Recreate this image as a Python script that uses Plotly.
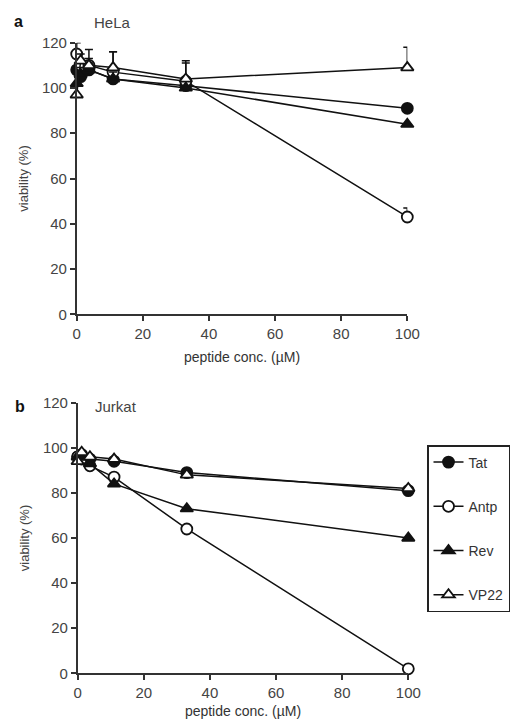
import plotly.graph_objects as go

conc = [0, 1.2, 3.7, 11, 33, 100]
series = ["Tat", "Antp", "Rev", "VP22"]

hela_tat = [108, 105, 108, 104, 101, 91]
hela_antp = [115, 110, 110, 107, 103, 43]
hela_rev = [102, 106, 108, 104, 100, 84]
hela_vp22 = [97, 112, 110, 109, 104, 109]
hela_tat_err = [3, 3, 3, 3, 3, 0]
hela_antp_err = [5, 3, 7, 9, 8, 4]
hela_rev_err = [3, 3, 3, 3, 3, 0]
hela_vp22_err = [4, 3, 3, 7, 8, 9]

jurkat_tat = [96, 97, 95, 94, 89, 81]
jurkat_antp = [96, 95, 92, 87, 64, 2]
jurkat_rev = [96, 96, 93, 84, 73, 60]
jurkat_vp22 = [94, 98, 96, 95, 88, 82]

x_ticks = [0, 20, 40, 60, 80, 100]
y_ticks = [0, 20, 40, 60, 80, 100, 120]

symbols = {"Tat": "circle", "Antp": "circle", "Rev": "triangle-up", "VP22": "triangle-up"}
fills = {"Tat": "#111", "Antp": "white", "Rev": "#111", "VP22": "white"}

fig = go.Figure()

hela = {"Tat": (hela_tat, hela_tat_err), "Antp": (hela_antp, hela_antp_err),
        "Rev": (hela_rev, hela_rev_err), "VP22": (hela_vp22, hela_vp22_err)}
jurkat = {"Tat": jurkat_tat, "Antp": jurkat_antp, "Rev": jurkat_rev, "VP22": jurkat_vp22}

for name in series:
    vals, err = hela[name]
    fig.add_trace(go.Scatter(
        x=conc, y=vals, mode="lines+markers", name=name, showlegend=False,
        line=dict(color="#111", width=1.5),
        marker=dict(symbol=symbols[name], size=11, color=fills[name],
                    line=dict(color="#111", width=1.8)),
        error_y=dict(type="data", array=err, arrayminus=[0]*len(err), symmetric=False,
                     color="#111", thickness=1.5, width=4),
        cliponaxis=False, xaxis="x", yaxis="y"))

for name in series:
    fig.add_trace(go.Scatter(
        x=conc, y=jurkat[name], mode="lines+markers", name=name, showlegend=True,
        legendgroup=name,
        line=dict(color="#111", width=1.5),
        marker=dict(symbol=symbols[name], size=11, color=fills[name],
                    line=dict(color="#111", width=1.8)),
        cliponaxis=False, xaxis="x2", yaxis="y2"))

axis_common = dict(
    range=[0, 100], showgrid=False, zeroline=False, showline=True, automargin=False,
    linecolor="#333", linewidth=1.5, ticks="outside", ticklen=5, tickwidth=1.5,
    tickcolor="#333", tickfont=dict(size=15, color="#444"), tickvals=x_ticks,
)
yaxis_common = dict(
    range=[0, 120], showgrid=False, zeroline=False, showline=True, automargin=False,
    linecolor="#333", linewidth=1.5, ticks="outside", ticklen=5, tickwidth=1.5,
    tickcolor="#333", tickfont=dict(size=15, color="#444"), tickvals=y_ticks,
)

fig.update_layout(
    width=513, height=720,
    margin=dict(l=0, r=0, t=0, b=0, autoexpand=False),
    paper_bgcolor="white", plot_bgcolor="white",
    font=dict(family="Arial, Liberation Sans, sans-serif", color="#333"),
    xaxis=dict(domain=[76.7/513, 407.3/513], anchor="y",
               title=dict(text="peptide conc. (µM)", font=dict(size=14, color="#333"), standoff=11),
               **axis_common),
    yaxis=dict(domain=[1-314.3/720, 1-42.7/720], anchor="x",
               title=dict(text="viability (%)", font=dict(size=13, color="#444"), standoff=10),
               **yaxis_common),
    xaxis2=dict(domain=[77.7/513, 408.3/513], anchor="y2",
                title=dict(text="peptide conc. (µM)", font=dict(size=14, color="#333"), standoff=6),
                **axis_common),
    yaxis2=dict(domain=[1-673.3/720, 1-402.7/720], anchor="x2",
                title=dict(text="viability (%)", font=dict(size=13, color="#444"), standoff=10),
                **yaxis_common),
    legend=dict(x=427/513, y=1-445/720, xanchor="left", yanchor="top",
                bordercolor="#222", borderwidth=1.5, bgcolor="white",
                font=dict(size=14, color="#333"), tracegroupgap=23, itemwidth=30,
                traceorder="grouped"),
    annotations=[
        dict(text="<b>a</b>", x=18/513, y=1-21/720, xref="paper", yref="paper",
             showarrow=False, font=dict(size=16, color="#111"), xanchor="center", yanchor="middle"),
        dict(text="HeLa", x=92/513, y=1-22/720, xref="paper", yref="paper",
             showarrow=False, font=dict(size=15, color="#444"), xanchor="left", yanchor="middle"),
        dict(text="<b>b</b>", x=20/513, y=1-406/720, xref="paper", yref="paper",
             showarrow=False, font=dict(size=16, color="#111"), xanchor="center", yanchor="middle"),
        dict(text="Jurkat", x=93/513, y=1-406/720, xref="paper", yref="paper",
             showarrow=False, font=dict(size=15, color="#444"), xanchor="left", yanchor="middle"),
    ],
)

fig.write_html("out.html", config={"displayModeBar": False},
               post_script="document.body.style.margin='0';")
